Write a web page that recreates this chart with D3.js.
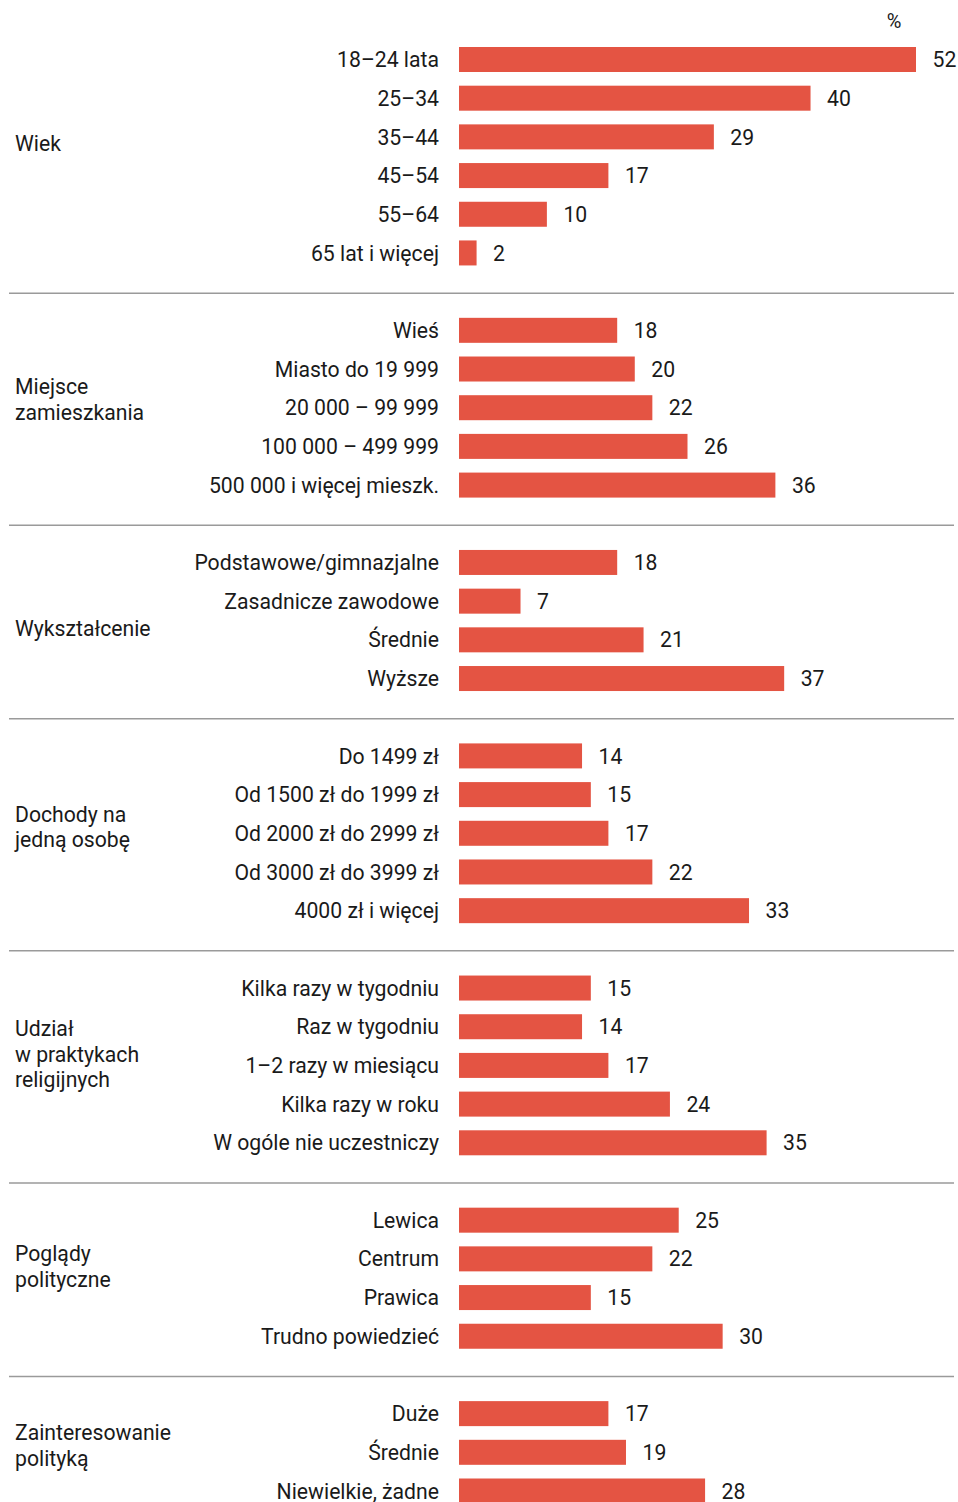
<!DOCTYPE html>
<html>
<head>
<meta charset="utf-8">
<script src="https://cdn.jsdelivr.net/npm/d3@7"></script>
<style>
  body { margin: 0; background: #fff; }
  svg text { font-family: Roboto, "Noto Sans", sans-serif; fill: #1a1a1a; }
  .sep { stroke: #9a9a9a; stroke-width: 1.5; }
  .bar { fill: #e45443; }
</style>
</head>
<body>
<div id="chart"></div>
<script>
// group names (label lines)
const groupNames = [
    ['Wiek'],
    ['Miejsce', 'zamieszkania'],
    ['Wykształcenie'],
    ['Dochody na', 'jedną osobę'],
    ['Udział', 'w praktykach', 'religijnych'],
    ['Poglądy', 'polityczne'],
    ['Zainteresowanie', 'polityką']
];

const wiekCats = ['18–24 lata', '25–34', '35–44', '45–54', '55–64', '65 lat i więcej'];
const wiekVals = [52, 40, 29, 17, 10, 2];

const miejsceCats = ['Wieś', 'Miasto do 19 999', '20 000 – 99 999', '100 000 – 499 999', '500 000 i więcej mieszk.'];
const miejsceVals = [18, 20, 22, 26, 36];

const wykszCats = ['Podstawowe/gimnazjalne', 'Zasadnicze zawodowe', 'Średnie', 'Wyższe'];
const wykszVals = [18, 7, 21, 37];

const dochodyCats = ['Do 1499 zł', 'Od 1500 zł do 1999 zł', 'Od 2000 zł do 2999 zł', 'Od 3000 zł do 3999 zł', '4000 zł i więcej'];
const dochodyVals = [14, 15, 17, 22, 33];

const udzialCats = ['Kilka razy w tygodniu', 'Raz w tygodniu', '1–2 razy w miesiącu', 'Kilka razy w roku', 'W ogóle nie uczestniczy'];
const udzialVals = [15, 14, 17, 24, 35];

const pogladyCats = ['Lewica', 'Centrum', 'Prawica', 'Trudno powiedzieć'];
const pogladyVals = [25, 22, 15, 30];

const zaintCats = ['Duże', 'Średnie', 'Niewielkie, żadne'];
const zaintVals = [17, 19, 28];

const groupCats = [wiekCats, miejsceCats, wykszCats, dochodyCats, udzialCats, pogladyCats, zaintCats];
const groupVals = [wiekVals, miejsceVals, wykszVals, dochodyVals, udzialVals, pogladyVals, zaintVals];

// small vertical nudges for group labels (layout only)
const labelShift = [-13, -8.5, 8, -6.5, -11.5, -12, -7];

const width = 958, height = 1502;
const FONT = 21.2;
const BAR_H = 25;

// build row slots: each group's rows plus one empty slot between groups
const rows = [];
const slots = [];
groupCats.forEach((cats, g) => {
    if (g > 0) slots.push('gap' + g);
    cats.forEach((c, i) => {
        const id = g + '-' + i;
        slots.push(id);
        rows.push({ id, group: g, label: c, value: groupVals[g][i] });
    });
});

const firstY = 59.5, lastY = 1491;
const y = d3.scalePoint().domain(slots).range([firstY, lastY]);
const x = d3.scaleLinear().domain([0, 52]).range([459, 916]);

const svg = d3.select('#chart').append('svg')
    .attr('width', width)
    .attr('height', height);

// bars
svg.selectAll('rect.bar')
    .data(rows)
    .enter().append('rect')
    .attr('class', 'bar')
    .attr('x', x(0))
    .attr('y', d => y(d.id) - BAR_H / 2)
    .attr('width', d => x(d.value) - x(0))
    .attr('height', BAR_H);

// value labels
svg.selectAll('text.val')
    .data(rows)
    .enter().append('text')
    .attr('class', 'val')
    .attr('x', d => x(d.value) + 16.5)
    .attr('y', d => y(d.id))
    .attr('dy', '0.36em')
    .style('font-size', FONT + 'px')
    .text(d => d.value);

// category labels
svg.selectAll('text.cat')
    .data(rows)
    .enter().append('text')
    .attr('class', 'cat')
    .attr('x', 439)
    .attr('y', d => y(d.id))
    .attr('dy', '0.36em')
    .attr('text-anchor', 'end')
    .style('font-size', FONT + 'px')
    .text(d => d.label);

// group labels
groupNames.forEach((lines, g) => {
    const ids = rows.filter(r => r.group === g).map(r => y(r.id));
    const center = (d3.min(ids) + d3.max(ids)) / 2 + labelShift[g];
    const lh = 25.5;
    const top = center - (lines.length - 1) * lh / 2;
    const t = svg.append('text')
        .attr('class', 'grp')
        .attr('x', 15)
        .style('font-size', FONT + 'px');
    lines.forEach((ln, i) => {
        t.append('tspan')
            .attr('x', 15)
            .attr('y', top + i * lh)
            .attr('dy', '0.36em')
            .text(ln);
    });
});

// separators at the gap slots
slots.filter(s => s.startsWith('gap')).forEach(s => {
    svg.append('line')
        .attr('class', 'sep')
        .attr('x1', 9)
        .attr('x2', 954)
        .attr('y1', y(s) + 1.5)
        .attr('y2', y(s) + 1.5);
});

// unit
svg.append('text')
    .attr('x', 894)
    .attr('y', 21)
    .attr('dy', '0.36em')
    .attr('text-anchor', 'middle')
    .style('font-size', '20px')
    .text('%');
</script>
</body>
</html>
